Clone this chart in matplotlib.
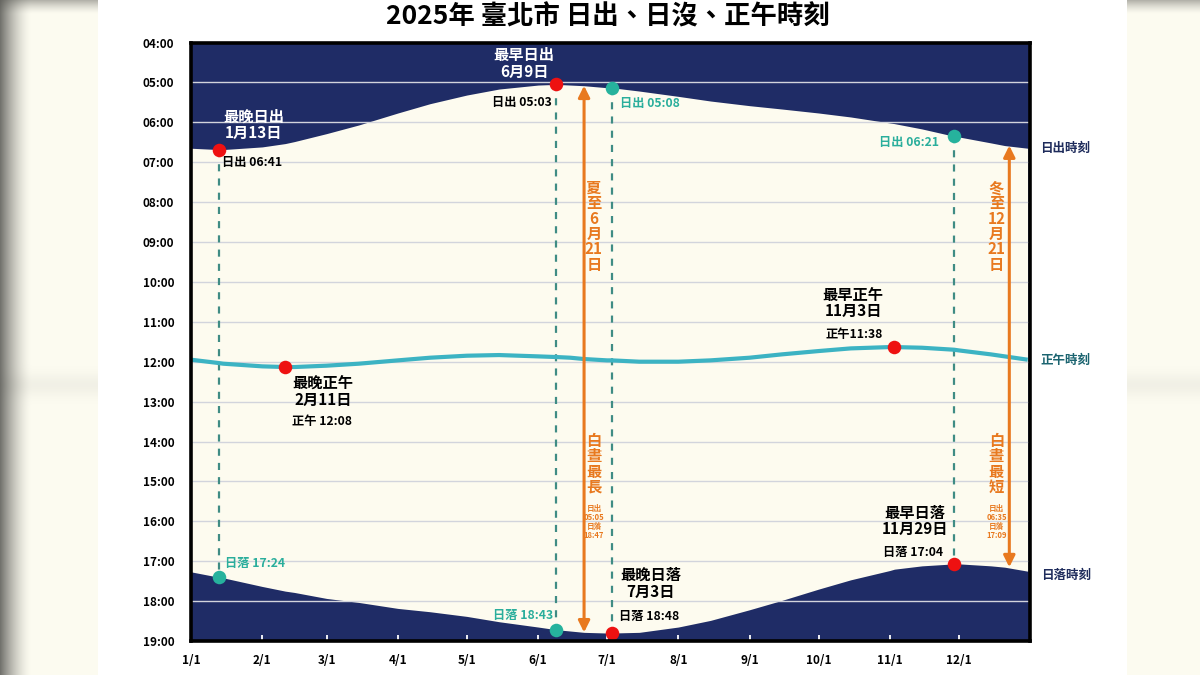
import numpy as np
import matplotlib
matplotlib.use("Agg")
import matplotlib.pyplot as plt
from datetime import date

plt.rcParams['font.family'] = ['Noto Sans CJK TC', 'DejaVu Sans']

# ---------------- data ----------------
dates = ["1/1", "1/13", "1/15", "2/1", "2/11", "2/15", "3/1", "3/15", "4/1", "4/15",
         "5/1", "5/15", "6/1", "6/9", "6/15", "6/21", "7/1", "7/3", "7/15", "8/1",
         "8/15", "9/1", "9/15", "10/1", "10/15", "11/1", "11/3", "11/15", "11/29",
         "12/1", "12/15", "12/21", "12/31"]
sunrise = ["06:39", "06:41", "06:41", "06:37", "06:32", "06:29", "06:17", "06:04", "05:46", "05:32",
           "05:19", "05:10", "05:04", "05:03", "05:04", "05:05", "05:08", "05:08", "05:13", "05:21",
           "05:28", "05:35", "05:40", "05:46", "05:52", "06:01", "06:02", "06:10", "06:21",
           "06:22", "06:31", "06:35", "06:39"]
sunset = ["17:16", "17:24", "17:25", "17:38", "17:45", "17:47", "17:56", "18:02", "18:11", "18:16",
          "18:23", "18:31", "18:39", "18:43", "18:45", "18:47", "18:48", "18:48", "18:47", "18:39",
          "18:29", "18:13", "17:59", "17:42", "17:28", "17:14", "17:12", "17:07", "17:04",
          "17:04", "17:07", "17:09", "17:15"]
noon = ["11:57", "12:02", "12:03", "12:07", "12:08", "12:08", "12:06", "12:03", "11:58", "11:54",
        "11:51", "11:50", "11:52", "11:53", "11:54", "11:56", "11:58", "11:58", "12:00", "12:00",
        "11:58", "11:54", "11:49", "11:44", "11:40", "11:38", "11:38", "11:39", "11:42",
        "11:43", "11:49", "11:52", "11:57"]

month_ticks = ["1/1", "2/1", "3/1", "4/1", "5/1", "6/1", "7/1", "8/1", "9/1", "10/1", "11/1", "12/1"]
hour_ticks = list(range(4, 20))

# solstice: date of the values, and date where the arrow is drawn
solstices = ["6/21", "12/21"]
solstice_arrow_at = ["6/21", "12/23"]

# ---------------- helpers ----------------
def doy(s):
    m, d = map(int, s.split("/"))
    return (date(2025, m, d) - date(2025, 1, 1)).days

def hrs(s):
    h, m = map(int, s.split(":"))
    return h + m / 60.0

days = np.array([doy(d) for d in dates])
rise = np.array([hrs(t) for t in sunrise])
sset = np.array([hrs(t) for t in sunset])
noonv = np.array([hrs(t) for t in noon])

def val(arr, d):
    return arr[dates.index(d)]

NAVY = "#1f2c66"
CREAM = "#fdfbef"
TEAL_DOT = "#26b29d"
TEAL_TXT = "#2aae9c"
DASH = "#3f8c84"
RED = "#ee1111"
ORANGE = "#e8791f"
NOONC = "#3cb3c3"

# ---------------- figure ----------------
fig = plt.figure(figsize=(12, 6.75), dpi=100)
fig.patch.set_facecolor("white")

# side panels (decorative backdrop)
def panel(rect, width_px, flip):
    pa = fig.add_axes(rect)
    xs = np.linspace(0, 1, width_px)
    ys = np.linspace(0, 1, 675)
    cream = np.array([0.992, 0.988, 0.945])
    gray = np.array([0.45, 0.45, 0.43])
    if flip:
        t = np.zeros_like(xs)
    else:
        t = np.clip(1 - (xs * width_px) / 32.0, 0, 1) ** 1.6
    img = cream[None, None, :] * (1 - t[None, :, None]) + gray[None, None, :] * t[None, :, None]
    img = np.repeat(img, 675, axis=0)
    top = np.clip(1 - ys * 675 / 14.0, 0, 1) ** 1.5
    band = 0.07 * np.exp(-((ys * 675 - 385) / 12.0) ** 2)
    shade = (0.45 * top + band)[:, None, None]
    img = img * (1 - shade) + np.array([0.35, 0.35, 0.33])[None, None, :] * shade
    pa.imshow(img, aspect="auto", extent=(0, 1, 1, 0))
    pa.set_axis_off()

panel([0, 0, 98 / 1200, 1], 98, False)
panel([1127 / 1200, 0, 73 / 1200, 1], 73, True)

ax = fig.add_axes([191 / 1200, 1 - 641 / 675, (1030 - 191) / 1200, (641 - 42.5) / 675])
ax.set_facecolor(NAVY)
ax.set_xlim(0, 365)
ax.set_ylim(19, 4)

ax.fill_between(days, rise, sset, color=CREAM, zorder=1, lw=0)
for h in hour_ticks[1:-1]:
    ax.axhline(h, color="#d2d4dc", lw=1.0, zorder=2)

ax.plot(days, noonv, color=NOONC, lw=3, zorder=4, solid_capstyle="butt")

# dashed verticals
for d in ["1/13", "6/9", "7/3", "11/29"]:
    ax.vlines(doy(d), val(rise, d), val(sset, d), colors=DASH, linestyles=(0, (3.2, 3.2)),
              lw=1.6, zorder=3)

# solstice arrows
for d, xd in zip(solstices, solstice_arrow_at):
    ax.annotate("", xy=(doy(xd), val(rise, d)), xytext=(doy(xd), val(sset, d)),
                arrowprops=dict(arrowstyle="<|-|>", color=ORANGE, lw=2.2, mutation_scale=17,
                                shrinkA=0, shrinkB=0), zorder=5)

# dots
red_pts = [("1/13", rise), ("6/9", rise), ("7/3", sset), ("11/29", sset), ("2/11", noonv), ("11/3", noonv)]
teal_pts = [("1/13", sset), ("6/9", sset), ("7/3", rise), ("11/29", rise)]
for d, arr in red_pts:
    ax.scatter(doy(d), val(arr, d), s=95, color=RED, zorder=6, linewidths=0)
for d, arr in teal_pts:
    ax.scatter(doy(d), val(arr, d), s=95, color=TEAL_DOT, zorder=6, linewidths=0)

def T(x, y, s, **kw):
    kw.setdefault("fontsize", 8.8)
    kw.setdefault("fontweight", "bold")
    kw.setdefault("va", "center")
    ax.text(x, y, s, zorder=7, **kw)

# annotations
T(27.4, 6.06, "最晚日出\n1月13日", color="white", fontsize=11, ha="center", linespacing=1.05)
T(13.5, 7.01, "日出 06:41", color="black", ha="left")
T(14.8, 17.06, "日落 17:24", color=TEAL_TXT, ha="left")

T(144.9, 4.53, "最早日出\n6月9日", color="white", fontsize=11, ha="center", linespacing=1.05)
T(157.0, 5.51, "日出 05:03", color="black", ha="right")
T(157.5, 18.36, "日落 18:43", color=TEAL_TXT, ha="right")

T(186.6, 5.54, "日出 05:08", color=TEAL_TXT, ha="left")
T(200.0, 17.55, "最晚日落\n7月3日", color="black", fontsize=11, ha="center", linespacing=1.05)
T(186.2, 18.39, "日落 18:48", color="black", ha="left")

T(325.5, 6.51, "日出 06:21", color=TEAL_TXT, ha="right")
T(315.0, 15.99, "最早日落\n11月29日", color="black", fontsize=11, ha="center", linespacing=1.05)
T(314.0, 16.79, "日落 17:04", color="black", ha="center")

T(57.4, 12.75, "最晚正午\n2月11日", color="black", fontsize=11, ha="center", linespacing=1.05)
T(57.0, 13.49, "正午 12:08", color="black", ha="center")
T(288.0, 10.53, "最早正午\n11月3日", color="black", fontsize=11, ha="center", linespacing=1.05)
T(288.5, 11.31, "正午11:38", color="black", ha="center")

# solstice texts
T(175.3, 8.61, "夏\n至\n6\n月\n21\n日", color=ORANGE, fontsize=11, ha="center", linespacing=0.95)
T(175.3, 14.56, "白\n晝\n最\n長", color=ORANGE, fontsize=11, ha="center", linespacing=0.95)
T(175.3, 16.01, "日出\n05:05\n日落\n18:47", color=ORANGE, fontsize=5.5, ha="center", linespacing=1.0)
T(350.4, 8.61, "冬\n至\n12\n月\n21\n日", color=ORANGE, fontsize=11, ha="center", linespacing=0.95)
T(350.4, 14.56, "白\n晝\n最\n短", color=ORANGE, fontsize=11, ha="center", linespacing=0.95)
T(350.4, 16.01, "日出\n06:35\n日落\n17:09", color=ORANGE, fontsize=5.5, ha="center", linespacing=1.0)

# right side labels
fig.text(1040 / 1200, 1 - 148 / 675, "日出時刻", color="#1f2c5c", fontsize=9, fontweight="bold", va="center")
fig.text(1040 / 1200, 1 - 360 / 675, "正午時刻", color="#1b6470", fontsize=9, fontweight="bold", va="center")
fig.text(1041 / 1200, 1 - 575 / 675, "日落時刻", color="#1f2c5c", fontsize=9, fontweight="bold", va="center")

# axes styling
ax.set_xticks([doy(m) for m in month_ticks])
ax.set_xticklabels(month_ticks)
ax.set_yticks(hour_ticks)
ax.set_yticklabels([f"{h:02d}:00" for h in hour_ticks])
ax.tick_params(axis="x", direction="in", color="white", length=4, width=1.3, pad=9, labelsize=8.5)
ax.tick_params(axis="y", length=0, pad=12, labelsize=8.5)
for lab in ax.get_xticklabels() + ax.get_yticklabels():
    lab.set_fontweight("bold")
for sp in ax.spines.values():
    sp.set_linewidth(2.6)
    sp.set_color("black")
    sp.set_zorder(8)

fig.text(608 / 1200, 1 - 17 / 675, "2025年 臺北市 日出、日沒、正午時刻", ha="center", va="center",
         fontsize=19, fontweight="bold", color="black")

fig.savefig("out.png", dpi=100)
